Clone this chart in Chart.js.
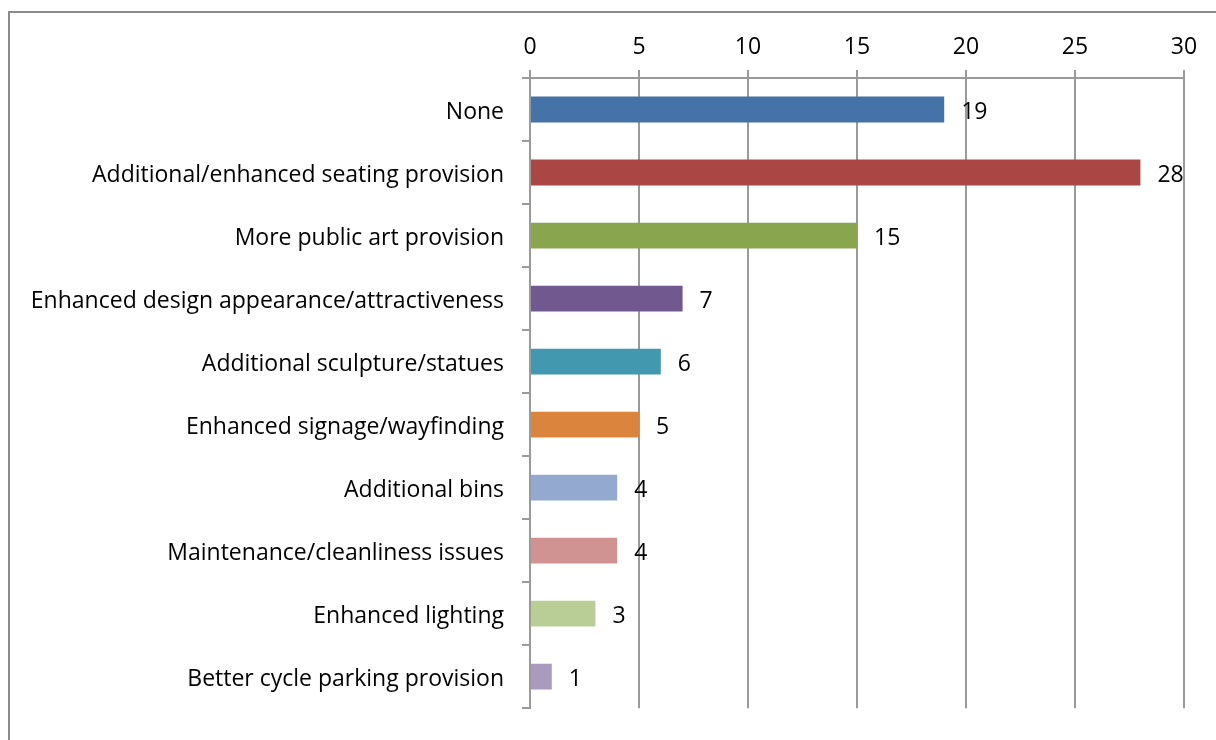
<!DOCTYPE html>
<html>
<head>
<style>
  body { margin: 0; background: #fff; }
</style>
</head>
<body>
<canvas id="myChart" width="1216" height="740"></canvas>
<script src="https://cdn.jsdelivr.net/npm/chart.js@4.4.1/dist/chart.umd.min.js"></script>
<script>
// chart data
const categories = [
  "None",
  "Additional/enhanced seating provision",
  "More public art provision",
  "Enhanced design appearance/attractiveness",
  "Additional sculpture/statues",
  "Enhanced signage/wayfinding",
  "Additional bins",
  "Maintenance/cleanliness issues",
  "Enhanced lighting",
  "Better cycle parking provision"
];
const counts = [19, 28, 15, 7, 6, 5, 4, 4, 3, 1];
const barColors = ["#4572A7", "#AA4643", "#89A54E", "#71588F", "#4198AF",
                   "#DB843D", "#93A9CF", "#D19392", "#B9CD96", "#A99BBD"];
const xTicks = [0, 5, 10, 15, 20, 25, 30];

const font = "'Open Sans', 'Liberation Sans', sans-serif";
const fontSize = 23;
const gridGray = "#9a9a9a";

// outer frame like the excel chart area
const framePlugin = {
  id: "frame",
  beforeDraw(chart) {
    const ctx = chart.ctx;
    ctx.save();
    ctx.fillStyle = "#fff";
    ctx.fillRect(0, 0, chart.width, chart.height);
    ctx.strokeStyle = "#8c8c8c";
    ctx.lineWidth = 2;
    ctx.strokeRect(9, 12, 1400, 1000);
    ctx.restore();
  }
};

// value labels next to bar ends
const valueLabels = {
  id: "valueLabels",
  afterDatasetsDraw(chart) {
    const ctx = chart.ctx;
    const meta = chart.getDatasetMeta(0);
    ctx.save();
    ctx.fillStyle = "#000";
    ctx.font = fontSize + "px " + font;
    ctx.textAlign = "left";
    ctx.textBaseline = "middle";
    meta.data.forEach((bar, i) => {
      ctx.fillText(counts[i], bar.x + 17, bar.y + 3);
    });
    ctx.restore();
  }
};

new Chart("myChart", {
  type: "bar",
  data: {
    labels: categories,
    datasets: [{
      data: counts,
      backgroundColor: barColors,
      barPercentage: 0.41,
      categoryPercentage: 1.0
    }]
  },
  options: {
    indexAxis: "y",
    responsive: false,
    animation: false,
    layout: { padding: { top: 0, right: 32, bottom: 24, left: 0 } },
    plugins: {
      legend: { display: false },
      tooltip: { enabled: false }
    },
    scales: {
      x: {
        position: "top",
        min: 0,
        max: 30,
        afterBuildTicks(scale) {
          scale.ticks = xTicks.map(v => ({ value: v }));
        },
        afterFit(scale) { scale.height = 78; },
        grid: { color: gridGray, lineWidth: 2, tickLength: 8 },
        border: { color: gridGray, width: 2 },
        ticks: { color: "#000", font: { family: font, size: fontSize }, padding: 9 }
      },
      y: {
        afterFit(scale) { scale.width = 530; },
        grid: { offset: true, drawOnChartArea: false, color: gridGray, lineWidth: 2, tickLength: 8 },
        border: { color: gridGray, width: 2 },
        ticks: { color: "#000", font: { family: font, size: fontSize }, padding: 18, labelOffset: 3 }
      }
    }
  },
  plugins: [framePlugin, valueLabels]
});
</script>
</body>
</html>
